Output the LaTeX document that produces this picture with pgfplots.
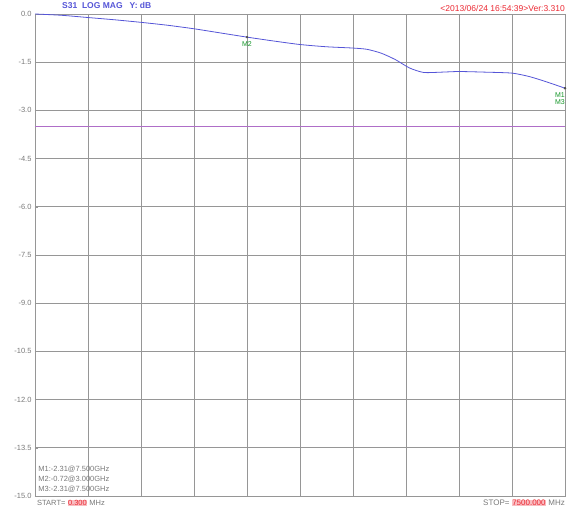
\documentclass[border=0pt]{standalone}
\usepackage{fontspec}
\setmainfont{Liberation Sans}
\usepackage{pgfplots}
\pgfplotsset{compat=1.18}
\definecolor{trace}{RGB}{85,85,215}
\definecolor{limitln}{RGB}{175,110,200}
\definecolor{gridc}{RGB}{150,150,150}
\definecolor{txtc}{RGB}{120,120,120}
\definecolor{mkgreen}{RGB}{20,150,40}
\definecolor{redt}{RGB}{235,40,50}
\begin{document}
\begin{tikzpicture}
 \begin{axis}[name=ax,scale only axis,width=530pt,height=482pt,
  xmin=0,xmax=7500,ymin=-15,ymax=0,
  xtick={0,750,...,7500},xticklabels={},
  ytick={-15,-13.5,...,0},ytick pos=left,
  yticklabel style={/pgf/number format/.cd,fixed,fixed zerofill,precision=1,assume math mode=true},
  ticklabel style={font=\fontsize{7.5}{8}\selectfont,text=txtc},
  grid=major,major grid style={gridc,line width=0.6pt},
  axis line style={gridc,line width=0.8pt},
  major tick length=3pt,tick style={gridc},
  xtick style={draw=none},
  clip=false]
  \addplot[trace,line width=0.8pt,smooth,tension=0.4] coordinates {
   (0.3,0) (375,-0.04) (750,-0.11) (1125,-0.18) (1500,-0.26) (1875,-0.35)
   (2250,-0.46) (2625,-0.59) (3000,-0.72) (3375,-0.84) (3750,-0.95)
   (4125,-1.02) (4500,-1.06) (4700,-1.10) (4900,-1.22) (5100,-1.42)
   (5300,-1.68) (5500,-1.82) (5750,-1.81) (6000,-1.79) (6375,-1.81)
   (6750,-1.84) (7000,-1.95) (7250,-2.12) (7500,-2.31)};
  \addplot[limitln,line width=0.8pt] coordinates {(0,-3.5) (7500,-3.5)};
  \addplot[only marks,mark=*,mark size=1pt,black!70] coordinates {(3000,-0.72) (7500,-2.31)};
  \node[mkgreen,font=\fontsize{7}{8}\selectfont,below=1pt] at (axis cs:3000,-0.72) {M2};
  \node[mkgreen,font=\fontsize{7}{8}\selectfont,anchor=north east,align=center,inner sep=0pt] at (axis cs:7500,-2.45) {M1\\[-1pt]M3};
  \node[txtc,font=\fontsize{7.5}{10}\selectfont,anchor=south west,align=left,inner sep=0pt] at (axis cs:45,-14.9) {M1:-2.31@7.500GHz\\M2:-0.72@3.000GHz\\M3:-2.31@7.500GHz};
 \end{axis}
 \node[trace,font=\bfseries\fontsize{8.5}{9}\selectfont,anchor=west,inner sep=0pt] at ([xshift=27pt,yshift=9pt]ax.north west) {S31\ \ LOG MAG\ \ \ Y: dB};
 \node[redt,font=\fontsize{8.5}{9}\selectfont,anchor=east,inner sep=0pt] at ([xshift=0pt,yshift=6pt]ax.north east) {<2013/06/24 16:54:39>Ver:3.310};
 \setlength{\fboxsep}{0.5pt}
 \node[txtc,font=\fontsize{7.5}{8}\selectfont,anchor=west,inner sep=0pt] at ([xshift=2pt,yshift=-7pt]ax.south west) {START=\ \colorbox{redt!30}{\color{redt}0.300}\ MHz};
 \node[txtc,font=\fontsize{8}{8}\selectfont,anchor=east,inner sep=0pt] at ([xshift=0pt,yshift=-7pt]ax.south east) {STOP=\ \colorbox{redt!30}{\color{redt}7500.000}\ MHz};
 \pgfresetboundingbox
 \path ([xshift=-35pt,yshift=-15pt]ax.south west) rectangle ([xshift=6pt,yshift=14pt]ax.north east);
\end{tikzpicture}
\end{document}
